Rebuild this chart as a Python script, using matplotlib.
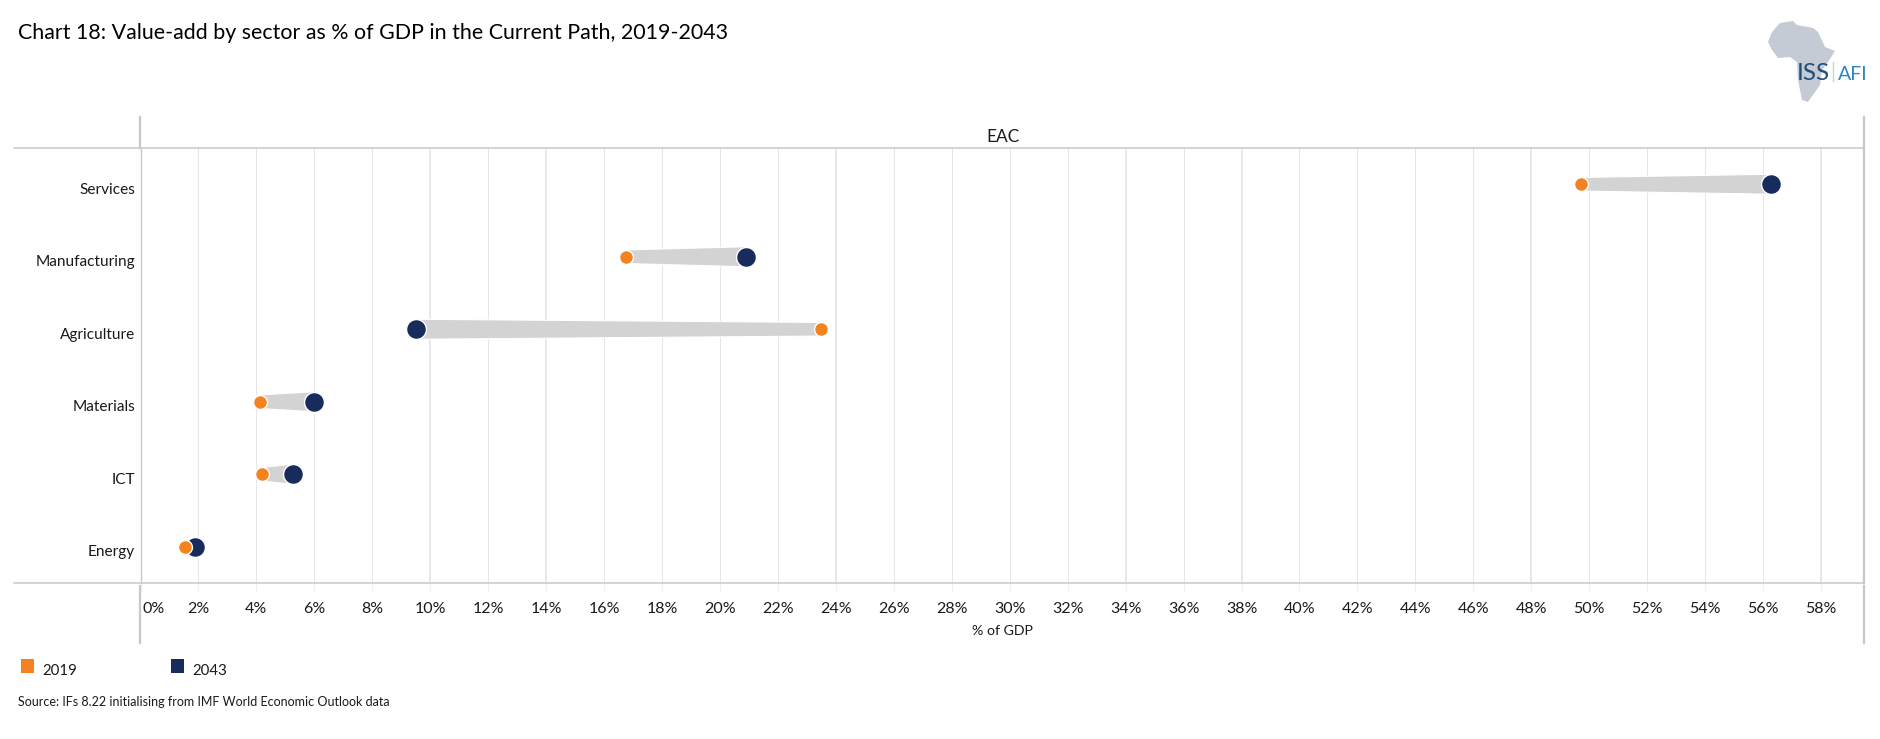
import matplotlib
matplotlib.use("Agg")
import matplotlib.pyplot as plt
from matplotlib.patches import Polygon, Rectangle
from matplotlib.transforms import ScaledTranslation

plt.rcParams['font.family'] = ['Lato', 'DejaVu Sans']

sectors = ["Services", "Manufacturing", "Agriculture", "Materials", "ICT", "Energy"]
values_2019 = [49.72, 16.75, 23.5, 4.12, 4.2, 1.55]
values_2043 = [56.29, 20.9, 9.5, 6.0, 5.25, 1.87]
ticks = list(range(0, 60, 2))
tick_labels = [f"{t}%" for t in ticks]
heavy_grid = [10, 14, 24, 34, 38, 48, 58]
ORANGE = "#F58220"
NAVY = "#172B5C"
WEDGE = "#D3D3D3"
LINE = "#C8C8C8"
GRID = "#E6E6E6"
TXT = "#1A1A1A"

W, H = 1880, 739
fig = plt.figure(figsize=(W/100, H/100), dpi=100, facecolor="white")
def fx(p): return p / W
def fy(p): return 1 - p / H

L, R, T, B = 140.5, 1864, 148, 583
ax = fig.add_axes([fx(L), fy(B), (R-L)/W, (B-T)/H])
px = 29.0
ax.set_xlim((L-139)/px, (R-139)/px)
ax.set_ylim(5.5, -0.5)
for s in ax.spines.values():
    s.set_visible(False)
ax.set_axisbelow(True)
ax.set_xticks(ticks)
ax.set_xticklabels(tick_labels, fontsize=11.5, color=TXT)
ax.tick_params(axis="x", length=6, color="#F0F0F0", width=0.8, pad=8)
ax.set_yticks(range(len(sectors)))
ax.set_yticklabels(sectors, fontsize=11.1, color=TXT)
ax.tick_params(axis="y", length=0, pad=4)
for lab in ax.get_yticklabels():
    lab.set_transform(lab.get_transform() + ScaledTranslation(0, -4.2/100, fig.dpi_scale_trans))
# the 0% label sits to the right of its tick, clear of the axis line
first = ax.get_xticklabels()[0]
first.set_transform(first.get_transform() + ScaledTranslation(13/100, 0, fig.dpi_scale_trans))
for t in ticks:
    if t == 0:
        continue
    ax.axvline(t, color=GRID, lw=1.3 if t in heavy_grid else 0.75, zorder=1)
ax.set_xlabel("% of GDP", fontsize=10.2, color=TXT, labelpad=6)

row_px = (B-T)/6
for i, (a, b) in enumerate(zip(values_2019, values_2043)):
    h0, h1 = 6.8/row_px, 10/row_px
    ax.fill([a, b, b, a], [i-h0, i-h1, i+h1, i+h0], color=WEDGE, ec="white", lw=0.8, zorder=2)
ax.scatter(values_2043, range(6), s=205, color=NAVY, edgecolor="white", lw=1.0, zorder=3)
ax.scatter(values_2019, range(6), s=100, color=ORANGE, edgecolor="white", lw=1.0, zorder=4)

# frame lines, in figure pixels
def vline(x, y0, y1, c=LINE, lw=1.4):
    fig.add_artist(plt.Line2D([fx(x), fx(x)], [fy(y0), fy(y1)], color=c, lw=lw))
def hline(y, x0, x1, c=LINE, lw=1.1):
    fig.add_artist(plt.Line2D([fx(x0), fx(x1)], [fy(y), fy(y)], color=c, lw=lw))
hline(T, 14, R)
hline(B, 14, R)
vline(140, 117, 148, lw=1.6)
vline(141, 148, B, lw=1.0)
vline(140, 586, 643, lw=1.6)
vline(R, 117, 583, lw=1.6)
vline(R, 586, 643, lw=1.6)

fig.text(fx(1003), fy(142), "EAC", fontsize=12.4, color=TXT, ha="center", va="baseline")
fig.text(fx(18), fy(39), "Chart 18: Value-add by sector as % of GDP in the Current Path, 2019-2043",
         fontsize=15.4, color="#000000", ha="left", va="baseline")
fig.text(fx(18), fy(706), "Source: IFs 8.22 initialising from IMF World Economic Outlook data",
         fontsize=9.02, color=TXT, ha="left", va="baseline")

# legend
for x, c, t in [(21, ORANGE, "2019"), (171, NAVY, "2043")]:
    fig.add_artist(Rectangle((fx(x), fy(673)), 13/W, 14/H, transform=fig.transFigure, color=c, lw=0))
    fig.text(fx(x+21), fy(675), t, fontsize=10.8, color=TXT, ha="left", va="baseline")

# logo
africa = [(1768,42),(1772,32),(1780,23),(1793,21),(1797,25),(1813,28),(1818,32),(1825,47),(1835,51),(1828,62),
          (1822,70),(1820,85),(1813,95),(1808,102),(1802,100),(1798,80),(1797,62),(1790,57),(1778,58),(1772,50)]
fig.add_artist(Polygon([(fx(x), fy(y)) for x, y in africa], closed=True, transform=fig.transFigure,
                       facecolor="#C5CBD5", edgecolor="none"))
fig.text(fx(1797), fy(80.5), "ISS", fontsize=17.5, color="#1F4E79", ha="left", va="baseline")
fig.add_artist(plt.Line2D([fx(1833), fx(1833)], [fy(62), fy(81)], color="#BFD8CF", lw=1))
fig.text(fx(1838), fy(79.5), "AFI", fontsize=14, color="#2E86C1", ha="left", va="baseline")

fig.savefig("out.png", dpi=100, facecolor="white")
